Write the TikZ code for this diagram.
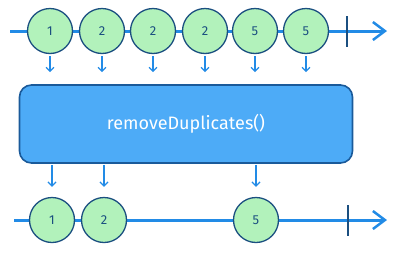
\documentclass[tikz,border=0pt]{standalone}
\usepackage{fontspec}
\setmainfont{Fira Sans}
\usetikzlibrary{arrows.meta}

\definecolor{lineblue}{HTML}{228BE6}
\definecolor{marblefill}{HTML}{B2F2BB}
\definecolor{marbleedge}{HTML}{1B4F80}
\definecolor{boxfill}{HTML}{4DABF7}
\definecolor{boxedge}{HTML}{1A5A9A}

\tikzset{
  marble/.style={circle,draw=marbleedge,fill=marblefill,line width=1.3pt,
    minimum size=45pt,inner sep=0pt,text=marbleedge,
    font=\fontsize{13}{13}\selectfont},
  timeline/.style={draw=lineblue,line width=3pt,
    -{Straight Barb[length=12pt,width=18pt,line width=2.5pt]}},
  endbar/.style={draw=marbleedge,line width=1.3pt},
  emit/.style={draw=lineblue,line width=1.3pt,
    -{Straight Barb[length=4pt,width=8pt,line width=1.3pt]}},
  opbox/.style={draw=boxedge,fill=boxfill,line width=1.6pt,rounded corners=12pt,
    minimum width=333pt,minimum height=78pt,text=white,
    font=\fontsize{18}{18}\selectfont}
}

\begin{document}
\begin{tikzpicture}[x=1pt,y=-1pt]
\useasboundingbox (0,0) rectangle (394,255);
% source stream
\coordinate (tstart) at (10,31);
\coordinate (tend) at (387,31);
\draw[timeline] (tstart) -- (tend);
\coordinate (tbartop) at (347,16);
\coordinate (tbarbot) at (347,47);
\draw[endbar] (tbartop) -- (tbarbot);
\foreach \x/\v [count=\i] in {50/1,102/2,153/2,205/2,255/5,306/5}
  \node[marble] (in\i) at (\x,31) {\v};
% operator
\node[opbox] (op) at (186,124) {removeDuplicates()};
\foreach \i in {1,...,6}
  \draw[emit] ([yshift=-2pt]in\i.south) -- ([yshift=12pt]in\i.south |- op.north);
% result stream
\coordinate (bstart) at (14,220);
\coordinate (bend) at (387,220);
\draw[timeline] (bstart) -- (bend);
\coordinate (bbartop) at (348,205);
\coordinate (bbarbot) at (348,236);
\draw[endbar] (bbartop) -- (bbarbot);
\foreach \x/\v [count=\i] in {52/1,104/2,256/5}
  \node[marble] (out\i) at (\x,220) {\v};
\foreach \i in {1,2,3}
  \draw[emit] ([yshift=-1pt]out\i.north |- op.south) -- ([yshift=10pt]out\i.north);
\end{tikzpicture}
\end{document}
